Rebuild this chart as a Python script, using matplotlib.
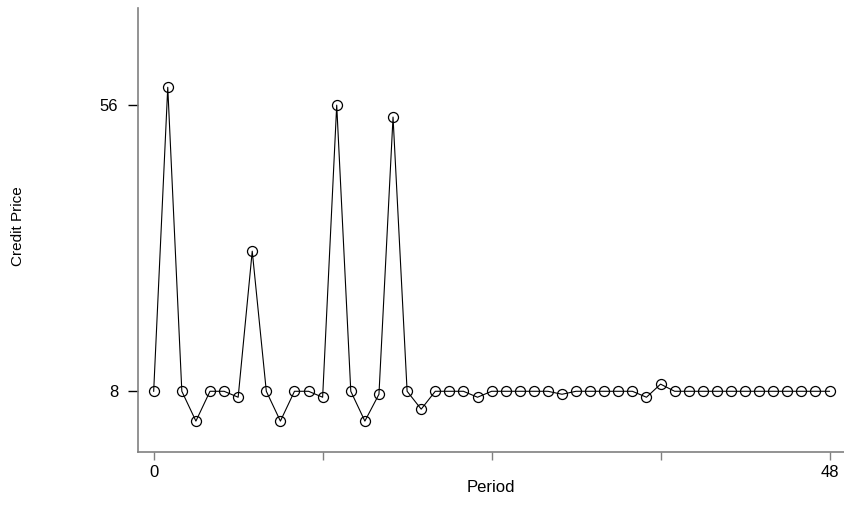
import matplotlib.pyplot as plt
import numpy as np

plt.rcParams['font.family'] = ['Liberation Sans', 'DejaVu Sans']
plt.rcParams['font.size'] = 12

period = np.arange(49)
price = [8, 59, 8, 3, 8, 8, 7, 31.5, 8, 3,
         8, 8, 7, 56, 8, 3, 7.5, 54, 8, 5,
         8, 8, 8, 7, 8, 8, 8, 8, 8, 7.5,
         8, 8, 8, 8, 8, 7, 9.2, 8, 8, 8,
         8, 8, 8, 8, 8, 8, 8, 8, 8]
xticks = [0, 12, 24, 36, 48]
xticklabels = ['0', '', '', '', '48']
yticks = [8, 56]

fig = plt.figure(figsize=(8.45, 5.08), dpi=100)
ax = fig.add_axes([0.1637, 0.1096, 0.8363, 0.8747])

ax.plot(period, price, color='black', lw=0.8, marker='o', ms=7.2,
        mfc='none', mec='black', mew=0.9)

ax.set_xlim(-1.09, 49.1)
ax.set_ylim(-2.24, 72.3)
ax.set_xticks(xticks)
ax.set_xticklabels(xticklabels)
ax.set_yticks(yticks)

for s in ['top', 'right']:
    ax.spines[s].set_visible(False)
for s in ['left', 'bottom']:
    ax.spines[s].set_color('#808080')
    ax.spines[s].set_linewidth(1.2)

ax.tick_params(axis='x', length=6, width=1, color='#808080', pad=3)
ax.tick_params(axis='y', length=7.5, width=1, color='black', pad=7)

ax.set_xlabel('Period', fontsize=12)
ax.xaxis.set_label_coords(0.499, -0.062)
ax.set_ylabel('Credit Price', fontsize=11)
ax.yaxis.set_label_coords(-0.170, 0.51)
ax.yaxis.label.set_va('center')

plt.savefig('out.png', dpi=100)
